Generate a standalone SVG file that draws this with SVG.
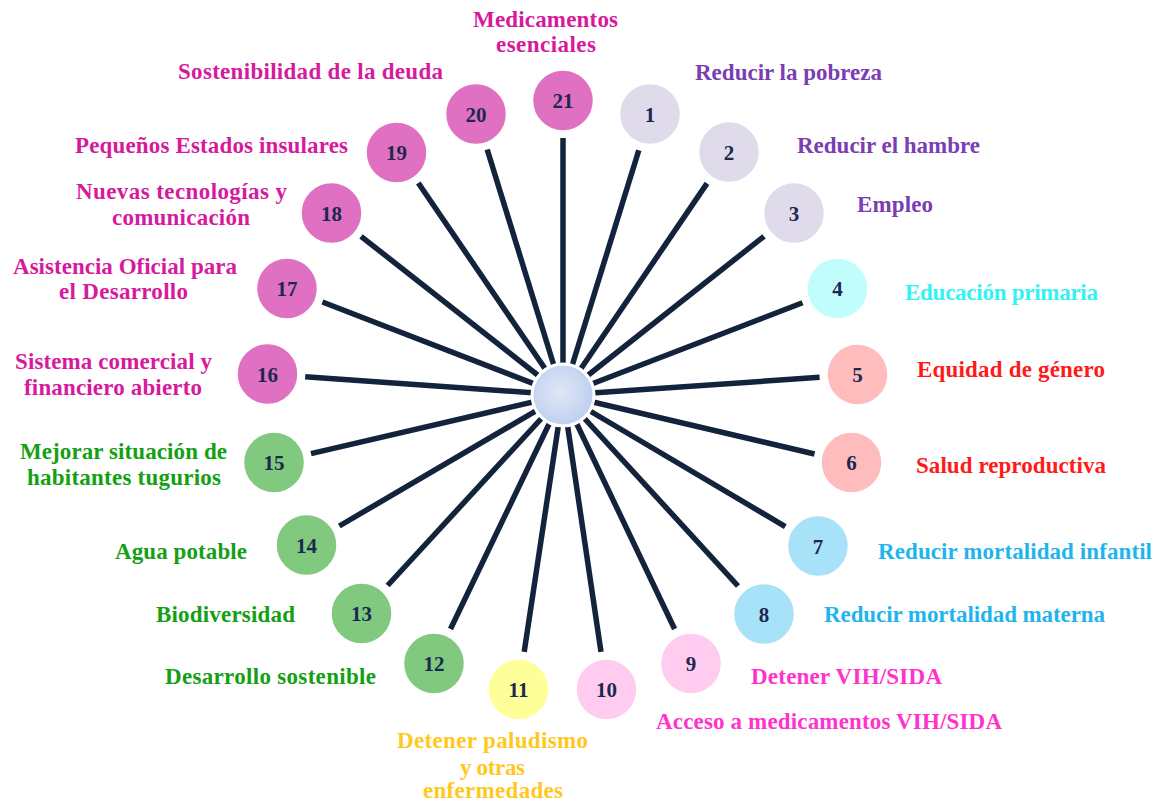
<svg xmlns="http://www.w3.org/2000/svg" width="1158" height="804" viewBox="0 0 1158 804">
<style>
.lbl{font-family:"Liberation Serif","DejaVu Serif",serif;font-weight:bold;font-size:23px}
.num{font-family:"Liberation Serif","DejaVu Serif",serif;font-weight:bold;font-size:21px;fill:#1b2850;text-anchor:middle}
.c{stroke:#ffffff;stroke-width:1.5}
.mag{fill:#d61a9e}.pur{fill:#7a3db2}.cya{fill:#33f2f2}.red{fill:#ff1a1a}.sky{fill:#1fb4ee}.pnk{fill:#ff33cc}.gold{fill:#ffc81e}.grn{fill:#13a013}
.f-mag{fill:#e070c2}.f-pur{fill:#e0dbea}.f-cya{fill:#c2fdfd}.f-red{fill:#ffbcbc}.f-sky{fill:#a8e2f8}.f-pnk{fill:#ffccf0}.f-gold{fill:#ffff99}.f-grn{fill:#80c97e}
#connectors line{stroke:#13233c;stroke-width:5.5;stroke-linecap:butt}
</style>
<defs>
<radialGradient id="cg" cx="0.45" cy="0.45" r="0.6">
<stop offset="0" stop-color="#dfe6f6"/>
<stop offset="0.6" stop-color="#c9d8f2"/>
<stop offset="1" stop-color="#b9cdef"/>
</radialGradient>
</defs>
<rect width="1158" height="804" fill="#ffffff"/>
<g id="connectors">
<line x1="563" y1="395" x2="563" y2="138"/>
<line x1="563" y1="395" x2="487.2" y2="149.5"/>
<line x1="563" y1="395" x2="638.8" y2="150.3"/>
<line x1="563" y1="395" x2="418.3" y2="183"/>
<line x1="563" y1="395" x2="707" y2="183.4"/>
<line x1="563" y1="395" x2="361" y2="236.3"/>
<line x1="563" y1="395" x2="764" y2="236.3"/>
<line x1="563" y1="395" x2="322.4" y2="302"/>
<line x1="563" y1="395" x2="802.5" y2="302.8"/>
<line x1="563" y1="395" x2="305.2" y2="376.7"/>
<line x1="563" y1="395" x2="819.6" y2="377.3"/>
<line x1="563" y1="395" x2="311" y2="453.6"/>
<line x1="563" y1="395" x2="814.5" y2="454"/>
<line x1="563" y1="395" x2="339.3" y2="526"/>
<line x1="563" y1="395" x2="785.3" y2="526.6"/>
<line x1="563" y1="395" x2="387.6" y2="585.5"/>
<line x1="563" y1="395" x2="738" y2="586"/>
<line x1="563" y1="395" x2="450.5" y2="629"/>
<line x1="563" y1="395" x2="674.6" y2="629"/>
<line x1="563" y1="395" x2="524.2" y2="651.8"/>
<line x1="563" y1="395" x2="601" y2="651.8"/>
</g>
<g id="hub"><circle cx="563" cy="395" r="31" fill="url(#cg)" stroke="#ffffff" stroke-width="3"/></g>

<g id="n1"><circle class="c f-pur" cx="650" cy="114" r="30.5"/><text class="num" x="650" y="121.5">1</text><text class="lbl pur" x="695" y="80" textLength="187">Reducir la pobreza</text></g>
<g id="n2"><circle class="c f-pur" cx="729" cy="152" r="30.5"/><text class="num" x="729" y="159.5">2</text><text class="lbl pur" x="797" y="153" textLength="183">Reducir el hambre</text></g>
<g id="n3"><circle class="c f-pur" cx="794" cy="213" r="30.5"/><text class="num" x="794" y="220.5">3</text><text class="lbl pur" x="857" y="212" textLength="76">Empleo</text></g>
<g id="n4"><circle class="c f-cya" cx="837.5" cy="288.5" r="30.5"/><text class="num" x="837.5" y="296">4</text><text class="lbl cya" x="905" y="300" textLength="193">Educación primaria</text></g>
<g id="n5"><circle class="c f-red" cx="857.5" cy="374.5" r="30.5"/><text class="num" x="857.5" y="382">5</text><text class="lbl red" x="917" y="377" textLength="188">Equidad de género</text></g>
<g id="n6"><circle class="c f-red" cx="851.5" cy="462.5" r="30.5"/><text class="num" x="851.5" y="470">6</text><text class="lbl red" x="916" y="473" textLength="190">Salud reproductiva</text></g>
<g id="n7"><circle class="c f-sky" cx="818" cy="546" r="30.5"/><text class="num" x="818" y="553.5">7</text><text class="lbl sky" x="878" y="559" textLength="274">Reducir mortalidad infantil</text></g>
<g id="n8"><circle class="c f-sky" cx="764" cy="614" r="30.5"/><text class="num" x="764" y="621.5">8</text><text class="lbl sky" x="824" y="622" textLength="281">Reducir mortalidad materna</text></g>
<g id="n9"><circle class="c f-pnk" cx="691" cy="663.5" r="30.5"/><text class="num" x="691" y="671">9</text><text class="lbl pnk" x="751" y="684" textLength="191">Detener VIH/SIDA</text></g>
<g id="n10"><circle class="c f-pnk" cx="606.5" cy="689.5" r="30.5"/><text class="num" x="606.5" y="697">10</text><text class="lbl pnk" x="656" y="729" textLength="346">Acceso a medicamentos VIH/SIDA</text></g>
<g id="n11"><circle class="c f-gold" cx="518.5" cy="689.5" r="30.5"/><text class="num" x="518.5" y="697">11</text>
<text class="lbl gold" x="397" y="748" textLength="191">Detener paludismo</text>
<text class="lbl gold" x="460" y="775" textLength="65">y otras</text>
<text class="lbl gold" x="423" y="798" textLength="140">enfermedades</text></g>
<g id="n12"><circle class="c f-grn" cx="434" cy="663.5" r="30.5"/><text class="num" x="434" y="671">12</text><text class="lbl grn" x="165" y="684" textLength="211">Desarrollo sostenible</text></g>
<g id="n13"><circle class="c f-grn" cx="361.5" cy="613.5" r="30.5"/><text class="num" x="361.5" y="621">13</text><text class="lbl grn" x="156" y="622" textLength="139">Biodiversidad</text></g>
<g id="n14"><circle class="c f-grn" cx="306.5" cy="545" r="30.5"/><text class="num" x="306.5" y="552.5">14</text><text class="lbl grn" x="115" y="559" textLength="132">Agua potable</text></g>
<g id="n15"><circle class="c f-grn" cx="274" cy="462.5" r="30.5"/><text class="num" x="274" y="470">15</text>
<text class="lbl grn" x="20" y="459" textLength="207">Mejorar situación de</text>
<text class="lbl grn" x="27" y="485" textLength="194">habitantes tugurios</text></g>
<g id="n16"><circle class="c f-mag" cx="267.5" cy="374" r="30.5"/><text class="num" x="267.5" y="381.5">16</text>
<text class="lbl mag" x="15" y="369" textLength="197">Sistema comercial y</text>
<text class="lbl mag" x="24" y="395" textLength="178">financiero abierto</text></g>
<g id="n17"><circle class="c f-mag" cx="287" cy="288.5" r="30.5"/><text class="num" x="287" y="296">17</text>
<text class="lbl mag" x="13" y="274" textLength="224">Asistencia Oficial para</text>
<text class="lbl mag" x="59" y="299" textLength="129">el Desarrollo</text></g>
<g id="n18"><circle class="c f-mag" cx="331.5" cy="213" r="30.5"/><text class="num" x="331.5" y="220.5">18</text>
<text class="lbl mag" x="76" y="199" textLength="211">Nuevas tecnologías y</text>
<text class="lbl mag" x="112" y="225" textLength="138">comunicación</text></g>
<g id="n19"><circle class="c f-mag" cx="396.5" cy="152.5" r="30.5"/><text class="num" x="396.5" y="160">19</text><text class="lbl mag" x="75" y="153" textLength="273">Pequeños Estados insulares</text></g>
<g id="n20"><circle class="c f-mag" cx="476" cy="114" r="30.5"/><text class="num" x="476" y="121.5">20</text><text class="lbl mag" x="178" y="79" textLength="265">Sostenibilidad de la deuda</text></g>
<g id="n21"><circle class="c f-mag" cx="563" cy="100.5" r="30.5"/><text class="num" x="563" y="108">21</text>
<text class="lbl mag" x="473" y="27" textLength="145">Medicamentos</text>
<text class="lbl mag" x="496" y="52" textLength="100">esenciales</text></g>
</svg>
